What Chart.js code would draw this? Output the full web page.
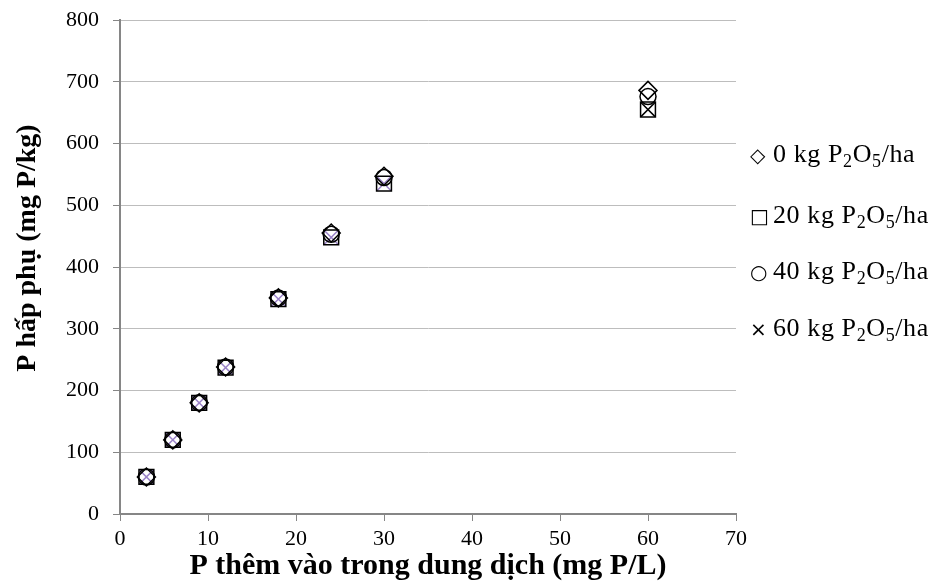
<!DOCTYPE html>
<html>
<head>
<meta charset="utf-8">
<script src="https://cdn.jsdelivr.net/npm/chart.js@4"></script>
<style>
  body { margin: 0; background: #fff; }
  #wrap { position: relative; width: 938px; height: 585px; }
  #legend { position: absolute; left: 750px; top: 0; font-family: "Liberation Serif", serif; font-size: 26px; color: #000; letter-spacing: 0.6px; }
  #legend div { position: absolute; white-space: nowrap; line-height: 26px; }
  #legend .mk { display: inline-block; width: 23px; font-family: "DejaVu Sans", sans-serif; font-size: 20px; letter-spacing: 0; }
  #legend sub { font-size: 18px; vertical-align: -5px; line-height: 0; }
</style>
</head>
<body>
<div id="wrap">
  <canvas id="chart" width="938" height="585"></canvas>
  <div id="legend"></div>
</div>
<script>
const xValues = [3, 6, 9, 12, 18, 24, 30, 60];
const kg0 = [60, 120, 180, 238, 350, 455, 547, 686];
const kg20 = [60, 120, 180, 237, 348, 448, 535, 655];
const kg40 = [60, 120, 180, 238, 350, 453, 545, 676];
const kg60 = [60, 120, 180, 237, 348, 448, 535, 655];
const seriesNames = ["0 kg", "20 kg", "40 kg", "60 kg"];
const legendMarks = ["\u25C7", "\u25A1", "\u25CB", "\u00D7"];
const xTitle = "P thêm vào trong dung dịch (mg P/L)";
const yTitle = "P hấp phụ (mg P/kg)";

const pts = (ys) => xValues.map((x, i) => ({ x, y: ys[i] }));
const axisColor = "#868686";
const tickFont = { family: "Liberation Serif", size: 22 };

// legend with real subscripts
const legendEl = document.getElementById("legend");
const legendTops = [141, 202, 258, 315];
seriesNames.forEach((name, i) => {
  const d = document.createElement("div");
  d.style.top = legendTops[i] + "px";
  d.innerHTML = `<span class="mk">${legendMarks[i]}</span>${name} P<sub>2</sub>O<sub>5</sub>/ha`;
  legendEl.appendChild(d);
});

const titlesPlugin = {
  id: "axisTitles",
  afterDraw(chart) {
    const { ctx, chartArea } = chart;
    ctx.save();
    ctx.fillStyle = "#000";
    ctx.textAlign = "center";
    ctx.textBaseline = "middle";
    ctx.font = "bold 30px 'Liberation Serif'";
    ctx.fillText(xTitle, (chartArea.left + chartArea.right) / 2, 566);
    ctx.font = "bold 28px 'Liberation Serif'";
    ctx.translate(28, 248);
    ctx.rotate(-Math.PI / 2);
    ctx.fillText(yTitle, 0, 0);
    ctx.restore();
  },
};

const xColors = kg60.map((v, i) => (i < kg60.length - 1 ? "#9a82c8" : "#000"));

new Chart(document.getElementById("chart"), {
  type: "scatter",
  data: {
    datasets: [
      { label: "0 kg", data: pts(kg0), pointStyle: "rectRot", pointRadius: 9, borderColor: "#000", backgroundColor: "transparent", borderWidth: 1.5 },
      { label: "20 kg", data: pts(kg20), pointStyle: "rect", pointRadius: 10.5, borderColor: "#000", backgroundColor: "transparent", borderWidth: 1.5 },
      { label: "40 kg", data: pts(kg40), pointStyle: "circle", pointRadius: 8, borderColor: "#000", backgroundColor: "transparent", borderWidth: 1.5 },
      { label: "60 kg", data: pts(kg60), pointStyle: "crossRot", pointRadius: 10, borderColor: xColors, backgroundColor: "transparent", borderWidth: 1.5 },
    ],
  },
  options: {
    responsive: false,
    animation: false,
    devicePixelRatio: 1,
    layout: { padding: { left: 0, right: 202, top: 20, bottom: 0 } },
    plugins: { legend: { display: false }, tooltip: { enabled: false } },
    scales: {
      x: {
        min: 0,
        max: 70,
        afterFit: (s) => { s.height = 71; s.paddingLeft = 0; s.paddingRight = 0; },
        ticks: { stepSize: 10, color: "#000", font: tickFont, padding: 5, maxRotation: 0 },
        grid: { drawOnChartArea: false, tickLength: 7, tickColor: axisColor },
        border: { color: axisColor, width: 2 },
      },
      y: {
        min: 0,
        max: 800,
        afterFit: (s) => { s.width = 120; s.paddingTop = 0; s.paddingBottom = 0; },
        ticks: { stepSize: 100, color: "#000", font: tickFont, padding: 14 },
        grid: { color: "#bdbdbd", lineWidth: 1, tickLength: 7, tickColor: axisColor },
        border: { color: axisColor, width: 2 },
      },
    },
  },
  plugins: [titlesPlugin],
});
</script>
</body>
</html>
